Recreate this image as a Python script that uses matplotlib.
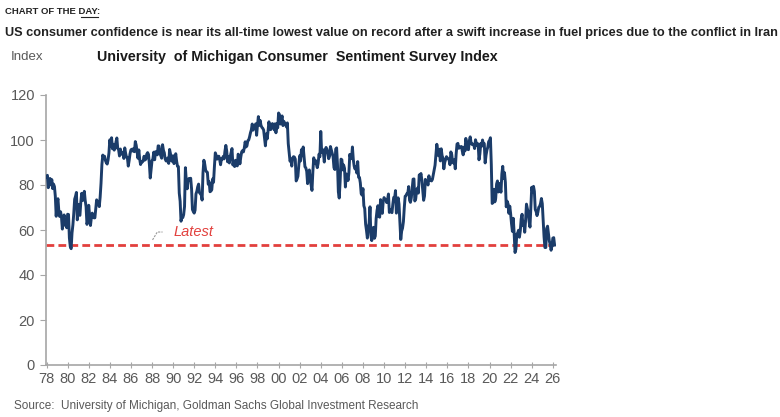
import matplotlib
matplotlib.use("Agg")
import matplotlib.pyplot as plt
import numpy as np

# ---------------- data ----------------
start_year = 1978
# University of Michigan Consumer Sentiment, monthly (Jan 1978 onward)
sentiment = [
    83.7, 84.3, 78.8, 81.6, 82.9, 80.0, 82.4, 78.4, 80.4, 79.3, 75.0, 66.1,   # 1978
    72.1, 73.9, 68.4, 66.0, 68.1, 65.8, 60.4, 64.5, 66.7, 62.1, 63.3, 61.0,   # 1979
    67.0, 66.9, 56.5, 52.7, 51.7, 58.7, 62.3, 67.4, 73.7, 75.0, 76.7, 64.5,   # 1980
    71.4, 66.9, 66.5, 72.4, 76.3, 73.1, 74.1, 77.2, 73.1, 70.3, 62.5, 64.3,   # 1981
    71.0, 66.5, 62.0, 65.5, 67.5, 65.7, 65.4, 65.4, 69.3, 73.4, 72.1, 71.9,   # 1982
    70.4, 74.6, 80.8, 89.1, 93.3, 92.2, 92.8, 90.9, 89.9, 89.3, 91.1, 94.2,   # 1983
    100.1, 97.4, 101.0, 96.1, 98.1, 95.5, 96.6, 99.1, 100.9, 96.3, 95.7, 92.9,  # 1984
    96.0, 93.7, 93.7, 94.6, 91.8, 96.5, 94.0, 92.4, 92.1, 88.4, 90.9, 93.9,   # 1985
    95.6, 95.9, 95.1, 96.2, 94.8, 99.3, 97.7, 94.9, 91.9, 95.6, 91.4, 89.1,   # 1986
    90.4, 90.2, 90.8, 92.8, 91.1, 91.5, 93.7, 94.4, 93.6, 89.3, 83.1, 86.8,   # 1987
    90.8, 91.6, 94.6, 91.2, 94.8, 94.7, 93.4, 97.4, 97.3, 94.1, 93.0, 91.9,   # 1988
    97.9, 95.4, 94.3, 91.5, 90.7, 90.6, 92.0, 89.6, 95.8, 93.9, 90.9, 90.5,   # 1989
    93.0, 89.5, 91.3, 93.9, 90.6, 88.3, 88.2, 76.4, 72.8, 63.9, 66.0, 65.5,   # 1990
    66.8, 70.4, 87.7, 81.8, 78.3, 82.1, 82.9, 82.0, 83.0, 78.3, 69.1, 68.2,   # 1991
    67.5, 68.8, 76.0, 77.2, 79.2, 80.4, 76.6, 76.1, 75.6, 73.3, 85.3, 91.0,   # 1992
    89.3, 86.6, 85.9, 85.6, 80.3, 81.5, 77.0, 77.3, 77.9, 82.7, 81.2, 88.2,   # 1993
    94.3, 93.2, 91.5, 92.6, 92.8, 91.2, 89.0, 91.7, 91.5, 92.7, 91.6, 95.1,   # 1994
    97.6, 95.1, 90.3, 92.5, 89.8, 92.7, 94.4, 96.2, 88.9, 90.2, 88.2, 91.0,   # 1995
    89.3, 88.5, 93.7, 92.7, 89.4, 92.4, 94.7, 95.3, 94.7, 96.5, 99.2, 96.9,   # 1996
    97.4, 99.7, 100.0, 101.4, 103.2, 104.5, 107.1, 104.4, 106.0, 105.6, 107.2, 102.1,  # 1997
    106.6, 110.4, 106.5, 108.7, 106.5, 105.6, 105.2, 104.4, 100.9, 97.4, 102.7, 100.5,  # 1998
    103.9, 108.1, 105.7, 104.6, 106.8, 107.3, 106.0, 104.5, 107.2, 103.2, 107.2, 105.4,  # 1999
    112.0, 111.3, 107.1, 109.2, 110.7, 106.4, 108.3, 107.3, 106.8, 105.8, 107.6, 98.4,  # 2000
    94.7, 90.6, 91.5, 88.4, 92.0, 92.6, 92.4, 91.5, 81.8, 82.7, 83.9, 88.8,   # 2001
    93.0, 90.7, 95.7, 93.0, 96.9, 92.4, 88.1, 87.6, 86.1, 80.6, 84.2, 86.7,   # 2002
    82.4, 79.9, 77.6, 86.0, 92.1, 89.7, 90.9, 89.3, 87.7, 89.6, 93.7, 92.6,   # 2003
    103.8, 94.4, 95.8, 94.2, 90.2, 95.6, 96.7, 95.9, 94.2, 91.7, 92.8, 97.1,  # 2004
    95.5, 94.1, 92.6, 87.7, 86.9, 96.0, 96.5, 89.1, 76.9, 74.2, 81.6, 91.5,   # 2005
    91.2, 86.7, 88.9, 87.4, 79.1, 84.9, 84.7, 82.0, 85.4, 93.6, 92.1, 91.7,   # 2006
    96.9, 91.3, 88.4, 87.1, 88.3, 85.3, 90.4, 83.4, 83.4, 80.9, 76.1, 75.5,   # 2007
    78.4, 70.8, 69.5, 62.6, 59.8, 56.4, 61.2, 63.0, 70.3, 57.6, 55.3, 60.1,   # 2008
    61.2, 56.3, 57.3, 65.1, 68.7, 70.8, 66.0, 65.7, 73.5, 70.6, 67.4, 72.5,   # 2009
    74.4, 73.6, 73.6, 72.2, 73.6, 76.0, 67.8, 68.9, 68.2, 67.7, 71.6, 74.5,   # 2010
    74.2, 77.5, 67.5, 69.8, 74.3, 71.5, 63.7, 55.8, 59.5, 60.8, 63.7, 69.9,   # 2011
    75.0, 75.3, 76.2, 76.4, 79.3, 73.2, 72.3, 74.3, 78.3, 82.6, 82.7, 72.9,   # 2012
    73.8, 77.6, 78.6, 76.4, 84.5, 84.1, 85.1, 82.1, 77.5, 73.2, 75.1, 82.5,   # 2013
    81.2, 81.6, 80.0, 84.1, 81.9, 82.5, 81.8, 82.5, 84.6, 86.9, 88.8, 93.6,   # 2014
    98.1, 95.4, 93.0, 95.9, 90.7, 96.1, 93.1, 91.9, 87.2, 90.0, 91.3, 92.6,   # 2015
    92.0, 91.7, 91.0, 89.0, 94.7, 93.5, 90.0, 89.8, 91.2, 87.2, 93.8, 98.2,   # 2016
    98.5, 96.3, 96.9, 97.0, 97.1, 95.1, 93.4, 96.8, 95.1, 100.7, 98.5, 95.9,  # 2017
    95.7, 99.7, 101.4, 98.8, 98.0, 98.2, 97.9, 96.2, 100.1, 98.6, 97.5, 98.3,  # 2018
    91.2, 93.8, 98.4, 97.2, 100.0, 98.2, 98.4, 89.8, 93.2, 95.5, 96.8, 99.3,  # 2019
    99.8, 101.0, 89.1, 71.8, 72.3, 78.1, 72.5, 74.1, 80.4, 81.8, 76.9, 80.7,  # 2020
    79.0, 76.8, 84.9, 88.3, 82.9, 85.5, 81.2, 70.3, 72.8, 71.7, 67.4, 70.6,   # 2021
    67.2, 62.8, 59.4, 65.2, 58.4, 50.0, 51.5, 58.2, 58.6, 59.9, 56.8, 59.7,   # 2022
    64.9, 67.0, 62.0, 63.7, 59.0, 64.2, 71.5, 69.5, 67.9, 63.8, 61.3, 69.7,   # 2023
    79.0, 76.9, 79.4, 77.2, 69.1, 68.2, 66.4, 67.9, 70.1, 70.5, 71.8, 74.0,   # 2024
    71.7, 64.7, 57.0, 52.2, 52.2, 60.7, 61.7, 58.2, 55.1, 53.6, 51.0, 52.9,   # 2025
    56.4, 56.6, 53.3,                                                         # 2026
]
latest_value = 53.3
latest_label = "Latest"
tick_years = list(range(1978, 2027, 2))
tick_labels = [f"{y % 100:02d}" for y in tick_years]
y_ticks = [0, 20, 40, 60, 80, 100, 120]

# ---------------- styling ----------------
NAVY = "#1B3C69"
RED = "#E2403D"
GRAY_TXT = "#595959"
AX_GRAY = "#A6A6A6"
NARROW = ["Liberation Sans Narrow", "Liberation Sans", "DejaVu Sans"]

fig = plt.figure(figsize=(7.8, 4.17), dpi=100)
ax = fig.add_axes([46 / 780, (417 - 365) / 417, 510 / 780, 270 / 417])

x = start_year + np.arange(len(sentiment)) / 12.0
ax.plot(x, sentiment, color=NAVY, lw=2.1, solid_joinstyle="round", zorder=3)

ax.axhline(latest_value, color=RED, lw=2.0, linestyle=(0, (2.8, 1.5)), zorder=2,
           xmin=0, xmax=(2026.0 - 1977.95) / (2026.3 - 1977.95))

# label with small leader
ax.plot([1988.05, 1988.5, 1989.0], [55.6, 59.1, 59.1], color="#9A9A9A", lw=0.8,
        linestyle=(0, (2, 1)), zorder=2)
ax.text(1990.0, 58.9, latest_label, color=RED, fontsize=10.5, style="italic",
        family=["Liberation Sans", "DejaVu Sans"], va="center", ha="left")

ax.set_xlim(1977.95, 2026.3)
ax.set_ylim(0, 120)
ax.set_xticks(tick_years)
ax.set_xticklabels(tick_labels)
ax.set_yticks(y_ticks)

for s in ["top", "right"]:
    ax.spines[s].set_visible(False)
for s in ["left", "bottom"]:
    ax.spines[s].set_color(AX_GRAY)
    ax.spines[s].set_linewidth(1.2)

ax.tick_params(axis="x", direction="inout", length=4, width=0.8, color=AX_GRAY,
               labelsize=10.5, labelcolor=GRAY_TXT, pad=3)
ax.tick_params(axis="y", direction="out", length=4, width=0.8, color=AX_GRAY,
               labelsize=10.5, labelcolor=GRAY_TXT, pad=4)
for lab in ax.get_xticklabels() + ax.get_yticklabels():
    lab.set_family(NARROW)

# ---------------- header text ----------------
hdr_y = 1 - 12 / 417
hdr_kw = dict(fontsize=6.8, fontweight="bold", family=NARROW, color="#222222",
              va="center", ha="left")
fig.text(5 / 780, hdr_y, "CHART OF THE DAY:", **hdr_kw)
fig.canvas.draw()
r = fig.canvas.get_renderer()
m1 = fig.text(5 / 780, hdr_y, "CHART OF THE", alpha=0, **hdr_kw)
m2 = fig.text(5 / 780, hdr_y, "CHART OF THE DAY", alpha=0, **hdr_kw)
m3 = fig.text(5 / 780, hdr_y, "CHART OF THE ", alpha=0, **hdr_kw)
b1 = m1.get_window_extent(r)
b2 = m2.get_window_extent(r)
ux0 = b1.x1 + (b2.x1 - b1.x1) * 0.25
ux1 = b2.x1
uy = b2.y0 - 0.5
fig.add_artist(plt.Line2D([ux0 / 780, ux1 / 780], [uy / 417, uy / 417],
                          color="#222222", lw=0.8, transform=fig.transFigure))
for m in (m1, m2, m3):
    m.remove()

fig.text(5 / 780, 1 - 33 / 417,
         "US consumer confidence is near its all-time lowest value on record after a swift "
         "increase in fuel prices due to the conflict in Iran",
         fontsize=9.2, fontweight="bold", family=NARROW, color="#222222",
         va="center", ha="left")
fig.text(11 / 780, 1 - 57 / 417, "Index", fontsize=9.5, family=NARROW,
         color=GRAY_TXT, va="center", ha="left")
fig.text(97 / 780, 1 - 57 / 417, "University  of Michigan Consumer  Sentiment Survey Index",
         fontsize=10.3, fontweight="bold", family=NARROW, color="#1a1a1a",
         va="center", ha="left")
fig.text(14 / 780, 1 - 406 / 417,
         "Source:  University of Michigan, Goldman Sachs Global Investment Research",
         fontsize=8.5, family=["Liberation Sans", "DejaVu Sans"], color=GRAY_TXT,
         va="center", ha="left")

fig.savefig("out.png", dpi=100)
